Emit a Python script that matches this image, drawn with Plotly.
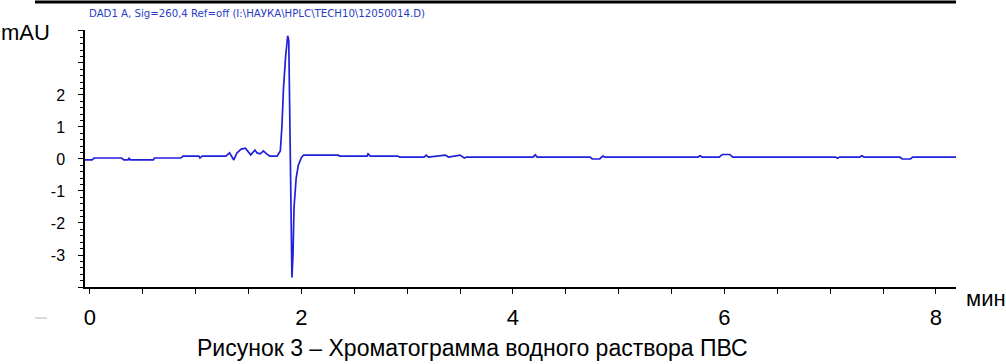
import plotly.graph_objects as go

# ---- data (time in min, signal in mAU) ----
time_min = [-0.047, 0.02, 0.04, 0.30, 0.32, 0.36, 0.37, 0.38, 0.60, 0.61, 0.86, 0.88,
            1.03, 1.04, 1.06, 1.286, 1.32, 1.34, 1.36, 1.39, 1.43, 1.47, 1.49, 1.52,
            1.56, 1.58, 1.61, 1.64, 1.66, 1.70, 1.77, 1.80, 1.815, 1.83, 1.85, 1.87,
            1.88, 1.89, 1.90, 1.91, 1.92, 1.93, 1.95, 1.97, 2.00, 2.02, 2.35, 2.36,
            2.62, 2.63, 2.65, 2.91, 2.93, 3.16, 3.18, 3.20, 3.36, 3.39, 3.50, 3.54,
            3.56, 4.19, 4.21, 4.23, 4.73, 4.75, 4.82, 4.85, 4.87, 5.75, 5.77, 5.79,
            5.95, 5.98, 6.05, 6.08, 7.05, 7.07, 7.09, 7.28, 7.30, 7.32, 7.66, 7.68,
            7.76, 7.78, 8.19]
signal_mau = [-0.03, -0.03, 0.03, 0.03, -0.03, -0.03, 0.03, -0.03, -0.03, 0.03, 0.03, 0.09,
              0.09, 0.03, 0.09, 0.09, 0.19, 0.06, -0.03, 0.19, 0.31, 0.34, 0.25, 0.13,
              0.28, 0.19, 0.16, 0.25, 0.19, 0.09, 0.09, 0.25, 1.0, 2.2, 3.2, 3.85,
              3.7, 1.0, -2.0, -3.7, -3.0, -1.5, -0.6, -0.2, 0.05, 0.12, 0.12, 0.09,
              0.09, 0.16, 0.09, 0.09, 0.06, 0.06, 0.12, 0.06, 0.12, 0.06, 0.12, 0.03,
              0.06, 0.06, 0.13, 0.06, 0.06, 0.0, 0.0, 0.09, 0.06, 0.06, 0.10, 0.06,
              0.06, 0.14, 0.14, 0.06, 0.06, 0.02, 0.06, 0.06, 0.10, 0.06, 0.06, 0.0,
              0.0, 0.06, 0.06]

x_tick_vals = [i * 0.5 for i in range(17)]
x_tick_text = [str(int(v)) if v in (0, 2, 4, 6, 8) else "" for v in x_tick_vals]
y_tick_vals = [-4, -3, -2, -1, 0, 1, 2, 3, 4]
y_tick_text = ["", "-3", "-2", "-1", "0", "1", "2", "", ""]

title_text = "DAD1 A, Sig=260,4 Ref=off (I:\\НАУКА\\HPLC\\TECH10\\12050014.D)"
caption_text = "Рисунок 3 – Хроматограмма водного раствора ПВС"
y_unit = "mAU"
x_unit = "мин"

W, H = 1006, 364
L, R, T, B = 85, 50, 30, 77
PW, PH = W - L - R, H - T - B


def px(xp):
    return (xp - L) / PW


def py(yp):
    return (H - B - yp) / PH


FONT = "Liberation Sans, Arial, sans-serif"

fig = go.Figure(go.Scatter(x=time_min, y=signal_mau, mode="lines",
                           line=dict(color="#2020dc", width=1.7),
                           showlegend=False))

fig.update_layout(
    width=W, height=H,
    margin=dict(l=L, r=R, t=T, b=B),
    paper_bgcolor="white", plot_bgcolor="white",
    font=dict(family=FONT, color="black"),
    xaxis=dict(range=[-0.047, 8.19], showgrid=False, zeroline=False,
               showline=True, linecolor="black", linewidth=1.5,
               ticks="outside", ticklen=5, tickwidth=1, tickcolor="black",
               tickmode="array", tickvals=x_tick_vals, ticktext=x_tick_text,
               tickfont=dict(size=22, family=FONT, color="black"),
               ticklabelstandoff=5),
    yaxis=dict(range=[-4.0, 4.03], showgrid=False, zeroline=False,
               showline=True, linecolor="black", linewidth=1.5,
               ticks="outside", ticklen=5, tickwidth=1, tickcolor="black",
               tickmode="array", tickvals=y_tick_vals, ticktext=y_tick_text,
               tickfont=dict(size=16, family=FONT, color="black"),
               ticklabelstandoff=10,
               minor=dict(ticks="outside", ticklen=3, tickwidth=1,
                          tickcolor="black", dtick=0.2, showgrid=False)),
    shapes=[
        dict(type="line", xref="paper", yref="paper",
             x0=px(35), x1=px(956), y0=py(2), y1=py(2),
             line=dict(color="black", width=3)),
        dict(type="line", xref="paper", yref="paper",
             x0=px(35), x1=px(47), y0=py(318), y1=py(318),
             line=dict(color="#cfcfcf", width=1.5)),
    ],
    annotations=[
        dict(text=title_text, xref="paper", yref="paper", x=px(87), y=py(13),
             xanchor="left", yanchor="middle", showarrow=False,
             font=dict(family="Liberation Sans Narrow, DejaVu Sans Condensed, sans-serif",
                       size=11.3, color="#2b3cc4")),
        dict(text=y_unit, xref="paper", yref="paper", x=px(-1), y=py(33),
             xanchor="left", yanchor="middle", showarrow=False,
             font=dict(family=FONT, size=22, color="black")),
        dict(text=x_unit, xref="paper", yref="paper", x=px(964), y=py(298),
             xanchor="left", yanchor="middle", showarrow=False,
             font=dict(family=FONT, size=22, color="black")),
        dict(text=caption_text, xref="paper", yref="paper", x=px(472), y=py(348),
             xanchor="center", yanchor="middle", showarrow=False,
             font=dict(family=FONT, size=23, color="black")),
    ],
)

fig.write_html("out.html",
               config={"displayModeBar": False},
               post_script="document.body.style.margin='0';document.body.style.overflow='hidden';")
